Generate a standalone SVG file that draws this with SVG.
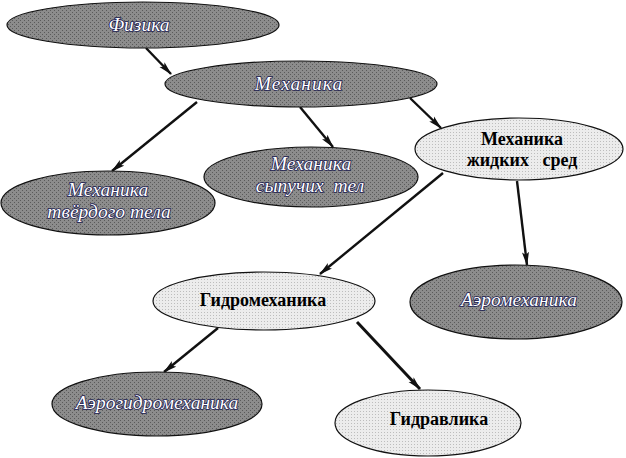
<svg xmlns="http://www.w3.org/2000/svg" width="626" height="458" viewBox="0 0 626 458">
<defs>
<pattern id="pd" width="4" height="4" patternUnits="userSpaceOnUse">
<rect width="4" height="4" fill="#8c8c8c"/>
<rect x="0" y="0" width="1" height="1" fill="#5a5a5a"/>
<rect x="2" y="2" width="1" height="1" fill="#5a5a5a"/>
</pattern>
<pattern id="pl" width="3" height="3" patternUnits="userSpaceOnUse">
<rect width="3" height="3" fill="#ececec"/>
<rect x="0" y="0" width="1" height="1" fill="#bdbdbd"/>
</pattern>
<marker id="ah" viewBox="0 0 14 8" refX="13" refY="4" markerWidth="14" markerHeight="8" markerUnits="userSpaceOnUse" orient="auto">
<path d="M0,0.5 L14,4 L0,7.5 L3,4 Z" fill="#111"/>
</marker>
</defs>
<style>
.dark{fill:url(#pd);stroke:#111;stroke-width:1.2}
.light{fill:url(#pl);stroke:#111;stroke-width:1.2}
.it{font-family:"Liberation Serif","Times New Roman",serif;font-style:italic;font-size:19.5px;fill:#fff;stroke:#1c1c50;stroke-width:1.6;paint-order:stroke;text-anchor:middle}
.bd{font-family:"Liberation Serif","Times New Roman",serif;font-weight:bold;font-size:18px;fill:#000;text-anchor:middle}
.c{stroke:#111;stroke-width:2.4;fill:none;marker-end:url(#ah)}
</style>
<g id="connectors">
<line class="c" x1="146" y1="48" x2="171" y2="74"/>
<line class="c" x1="197" y1="102" x2="112" y2="171"/>
<line class="c" x1="300" y1="107" x2="333" y2="147"/>
<line class="c" x1="410" y1="98" x2="441" y2="128"/>
<line class="c" x1="443" y1="173" x2="320" y2="274"/>
<line class="c" x1="517" y1="181" x2="527" y2="265"/>
<line class="c" x1="218" y1="328" x2="164" y2="372"/>
<line class="c" x1="357" y1="322" x2="420" y2="389" style="stroke-width:3"/>
</g>
<g id="fizika">
<ellipse class="dark" cx="143" cy="25" rx="136" ry="23"/>
<text class="it" x="139" y="31">Физика</text>
</g>
<g id="mekhanika">
<ellipse class="dark" cx="301" cy="84" rx="136" ry="23"/>
<text class="it" x="299" y="90" letter-spacing="1">Механика</text>
</g>
<g id="mekh-zhidkikh-sred">
<ellipse class="light" cx="519" cy="149" rx="104" ry="31"/>
<text class="bd" x="522" y="145">Механика</text>
<text class="bd" x="522" y="166" xml:space="preserve">жидких   сред</text>
</g>
<g id="mekh-tverdogo-tela">
<ellipse class="dark" cx="108" cy="203" rx="107" ry="32"/>
<text class="it" x="108" y="196">Механика</text>
<text class="it" x="109" y="218">твёрдого тела</text>
</g>
<g id="mekh-sypuchikh-tel">
<ellipse class="dark" cx="311" cy="177" rx="107" ry="30"/>
<text class="it" x="311" y="170">Механика</text>
<text class="it" x="310" y="192" xml:space="preserve">сыпучих  тел</text>
</g>
<g id="gidromekhanika">
<ellipse class="light" cx="264" cy="301" rx="111" ry="29"/>
<text class="bd" x="263" y="306">Гидромеханика</text>
</g>
<g id="aeromekhanika">
<ellipse class="dark" cx="516" cy="302" rx="106" ry="37"/>
<text class="it" x="519" y="306">Аэромеханика</text>
</g>
<g id="aerogidromekhanika">
<ellipse class="dark" cx="157" cy="404" rx="105" ry="32"/>
<text class="it" x="157" y="409">Аэрогидромеханика</text>
</g>
<g id="gidravlika">
<ellipse class="light" cx="428" cy="423" rx="93" ry="33"/>
<text class="bd" x="439" y="425">Гидравлика</text>
</g>
</svg>
